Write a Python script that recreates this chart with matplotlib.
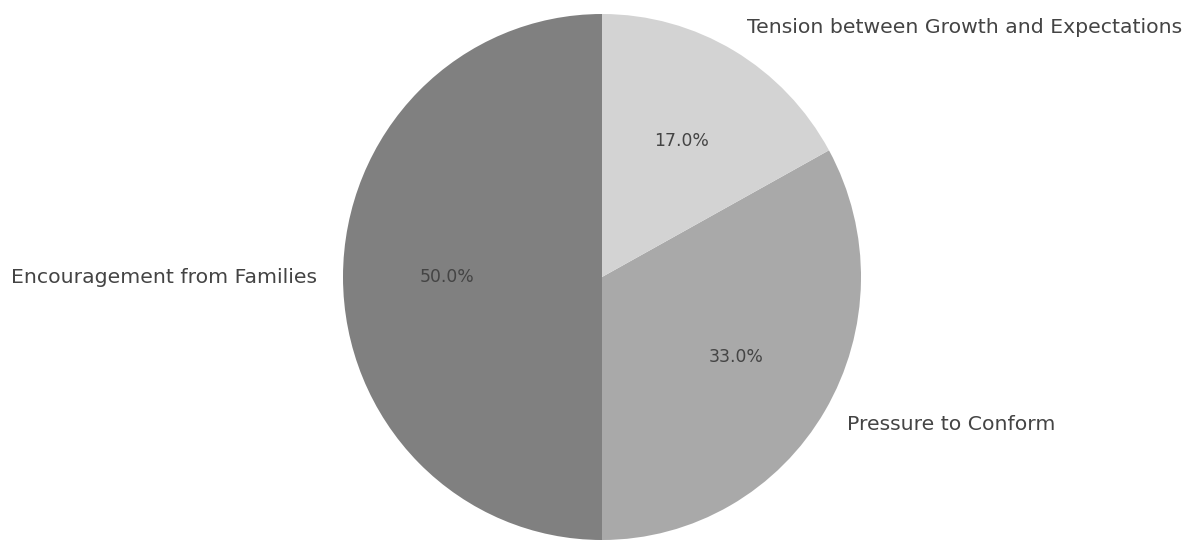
import matplotlib.pyplot as plt

labels = ['Encouragement from Families', 'Pressure to Conform',
          'Tension between Growth and Expectations']
shares = [50, 33, 17]
colors = ['#808080', '#a9a9a9', '#d3d3d3']

fig = plt.figure(figsize=(11.87, 5.4), dpi=100)
# pie fills the whole height of the figure
ax = fig.add_axes([343 / 1187, 0, 518 / 1187, 526 / 540])

wedges, texts, autotexts = ax.pie(shares, labels=labels, colors=colors,
                                  autopct='%1.1f%%', startangle=90,
                                  textprops={'color': '#444444'})
for t in texts:
    t.set_fontsize(14.7)
for t in autotexts:
    t.set_fontsize(12.4)

ax.set_aspect('auto')
ax.set_xlim(-1, 1)
ax.set_ylim(-1, 1)

fig.savefig('out.png', dpi=100)
